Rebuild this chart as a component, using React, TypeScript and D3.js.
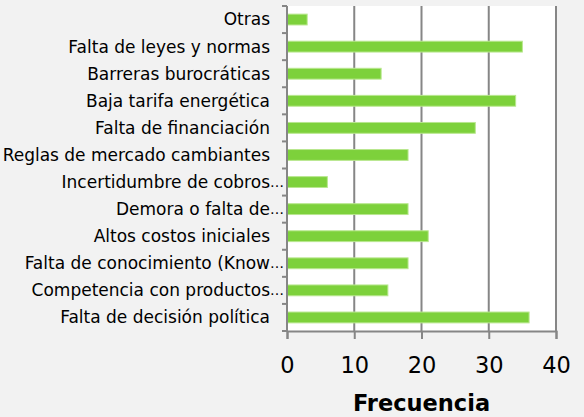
import React, { useEffect, useRef } from "react";
import { select, scaleLinear, scaleBand, axisBottom } from "d3";

// categories top to bottom, as in the picture
const categories = [
  "Otras",
  "Falta de leyes y normas",
  "Barreras burocráticas",
  "Baja tarifa energética",
  "Falta de financiación",
  "Reglas de mercado cambiantes",
  "Incertidumbre de cobros…",
  "Demora o falta de…",
  "Altos costos iniciales",
  "Falta de conocimiento (Know…",
  "Competencia con productos…",
  "Falta de decisión política"
];
const frecuencia = [3, 35, 14, 34, 28, 18, 6, 18, 21, 18, 15, 36];
const xTicks = [0, 10, 20, 30, 40];
const xTitle = "Frecuencia";

const W = 584;
const H = 417;
const margin = { top: 6, right: 28, bottom: 86, left: 287 };

function BarChart() {
  const svgRef = useRef<SVGSVGElement>(null);

  useEffect(() => {
    const svg = select(svgRef.current);
    svg.selectAll("*").remove();

    const innerW = W - margin.left - margin.right;
    const innerH = H - margin.top - margin.bottom;

    const xScale = scaleLinear().domain([0, 40]).range([0, innerW]);
    const yScale = scaleBand<string>()
      .domain(categories)
      .range([0, innerH])
      .paddingInner(0.6)
      .paddingOuter(0.3);

    svg.append("rect").attr("width", W).attr("height", H).attr("fill", "#f2f2f2");

    const g = svg
      .append("g")
      .attr("transform", `translate(${margin.left},${margin.top})`);

    g.append("rect").attr("width", innerW).attr("height", innerH).attr("fill", "#ffffff");

    // gridlines
    g.selectAll(".grid")
      .data(xTicks.slice(1))
      .join("line")
      .attr("class", "grid")
      .attr("x1", d => xScale(d))
      .attr("x2", d => xScale(d))
      .attr("y1", 0)
      .attr("y2", innerH)
      .attr("stroke", "#868686")
      .attr("stroke-width", 2);

    // bars
    g.selectAll(".bar")
      .data(categories)
      .join("rect")
      .attr("class", "bar")
      .attr("x", 0)
      .attr("y", d => yScale(d)!)
      .attr("width", (d, i) => xScale(frecuencia[i]))
      .attr("height", yScale.bandwidth())
      .attr("fill", "#7dd13b")
      .attr("stroke", "#b9e78f")
      .attr("stroke-width", 1);

    // x axis
    const xAxis = axisBottom(xScale).tickValues(xTicks).tickSize(8).tickPadding(18);
    const xg = g.append("g").attr("transform", `translate(0,${innerH})`).call(xAxis);
    xg.select(".domain").attr("stroke", "#868686").attr("stroke-width", 2);
    xg.selectAll(".tick line").attr("stroke", "#868686").attr("stroke-width", 2);
    xg.selectAll(".tick text")
      .attr("fill", "#000")
      .attr("font-family", "DejaVu Sans, sans-serif")
      .attr("font-size", 22.5);

    // y axis: ticks at band boundaries, labels drawn separately
    const step = yScale.step();
    g.selectAll(".ytick")
      .data([...categories.map((c, i) => i), categories.length])
      .join("line")
      .attr("class", "ytick")
      .attr("x1", -5)
      .attr("x2", 0)
      .attr("y1", i => i * step)
      .attr("y2", i => i * step)
      .attr("stroke", "#868686")
      .attr("stroke-width", 2);
    g.append("line")
      .attr("x1", 0)
      .attr("x2", 0)
      .attr("y1", 0)
      .attr("y2", innerH)
      .attr("stroke", "#868686")
      .attr("stroke-width", 2);

    const labels = g
      .selectAll(".ylabel")
      .data(categories)
      .join("g")
      .attr("class", "ylabel")
      .attr("transform", d => `translate(-17,${yScale(d)! + yScale.bandwidth() / 2})`)
      .attr("font-family", "DejaVu Sans, sans-serif")
      .attr("font-size", 17)
      .attr("fill", "#000");
    labels
      .append("text")
      .attr("text-anchor", "end")
      .attr("dy", "0.35em")
      .text(d => d.replace("…", ""));
    labels
      .filter(d => d.endsWith("…"))
      .append("text")
      .attr("text-anchor", "start")
      .attr("dy", "0.35em")
      .attr("font-size", 14)
      .text("…");

    // axis title
    g.append("text")
      .attr("x", innerW / 2)
      .attr("y", innerH + 80)
      .attr("text-anchor", "middle")
      .attr("font-family", "DejaVu Sans, sans-serif")
      .attr("font-weight", "bold")
      .attr("font-size", 22.5)
      .attr("fill", "#000")
      .text(xTitle);
  }, []);

  return <svg ref={svgRef} width={W} height={H} style={{ position: "absolute", left: 0, top: 0 }} />;
}

export default function App() {
  return <BarChart />;
}
